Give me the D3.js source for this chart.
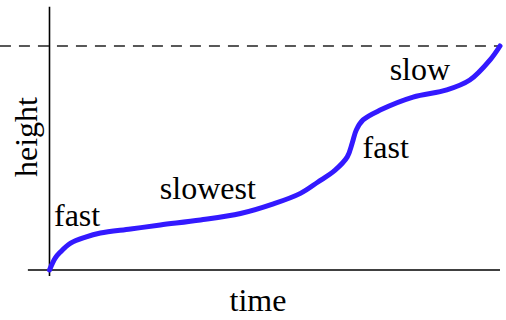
<!DOCTYPE html>
<html>
<head>
<meta charset="utf-8">
<script src="https://cdn.jsdelivr.net/npm/d3@7"></script>
<style>
  body { margin: 0; background: #fff; }
</style>
</head>
<body>
<script>
// curve (time 0..100, height 0..100)
var times   = [0, 1.3, 2.4, 4.7, 8, 11.3, 18, 24.6, 33.5, 42.4, 49.7, 55.7, 59.6, 63.4, 66.1, 67.2, 68.1, 69.6, 73.4, 80.7, 88.2, 93.3, 97.8, 100];
var heights = [0, 5.4, 8, 12, 14.7, 16.5, 18.3, 20.1, 22.3, 25.2, 29.5, 34.2, 39.3, 44.6, 50.5, 56.7, 62.5, 67, 71.4, 77.2, 80.4, 84.8, 93.8, 100];
var maxHeight = 100;

var labels = ["fast", "slowest", "fast", "slow"];
var labelTimes   = [1, 24.5, 69.5, 75.5];
var labelHeights = [19.5, 31.5, 50, 85];

const width = 506, height = 320;
const serif = "'Liberation Serif', 'Times New Roman', Times, 'DejaVu Serif', serif";

var x = d3.scaleLinear().domain([0, 100]).range([49.5, 500]);
var y = d3.scaleLinear().domain([0, 100]).range([270, 46]);

var svg = d3.select("body").append("svg")
    .attr("width", width)
    .attr("height", height)
    .style("font-family", serif);

// dashed max-height line
svg.append("line")
    .attr("x1", x(-11)).attr("x2", x(100))
    .attr("y1", y(maxHeight)).attr("y2", y(maxHeight))
    .attr("stroke", "#222")
    .attr("stroke-width", 1.6)
    .attr("stroke-dasharray", "11,8");

// axes
svg.append("line")
    .attr("x1", x(0)).attr("x2", x(0))
    .attr("y1", y(117.5)).attr("y2", y(-2.7))
    .attr("stroke", "#000").attr("stroke-width", 1.6);

svg.append("line")
    .attr("x1", x(-4.8)).attr("x2", x(100))
    .attr("y1", y(0)).attr("y2", y(0))
    .attr("stroke", "#000").attr("stroke-width", 1.6);

// the curve
var line = d3.line()
    .x(function(d, i) { return x(times[i]); })
    .y(function(d) { return y(d); })
    .curve(d3.curveCatmullRom.alpha(0.5));

svg.append("path")
    .datum(heights)
    .attr("d", line)
    .attr("fill", "none")
    .attr("stroke", "#3319ff")
    .attr("stroke-width", 5)
    .attr("stroke-linecap", "round");

// annotations
svg.selectAll(".note")
    .data(labels)
    .enter().append("text")
    .attr("class", "note")
    .attr("x", function(d, i) { return x(labelTimes[i]); })
    .attr("y", function(d, i) { return y(labelHeights[i]); })
    .attr("font-family", serif)
    .attr("font-size", 32)
    .text(function(d) { return d; });

// axis titles
svg.append("text")
    .attr("x", 258).attr("y", 311)
    .attr("text-anchor", "middle")
    .attr("font-family", serif)
    .attr("font-size", 32)
    .text("time");

svg.append("text")
    .attr("transform", "translate(37,137) rotate(-90)")
    .attr("text-anchor", "middle")
    .attr("font-family", serif)
    .attr("font-size", 32)
    .text("height");
</script>
</body>
</html>
